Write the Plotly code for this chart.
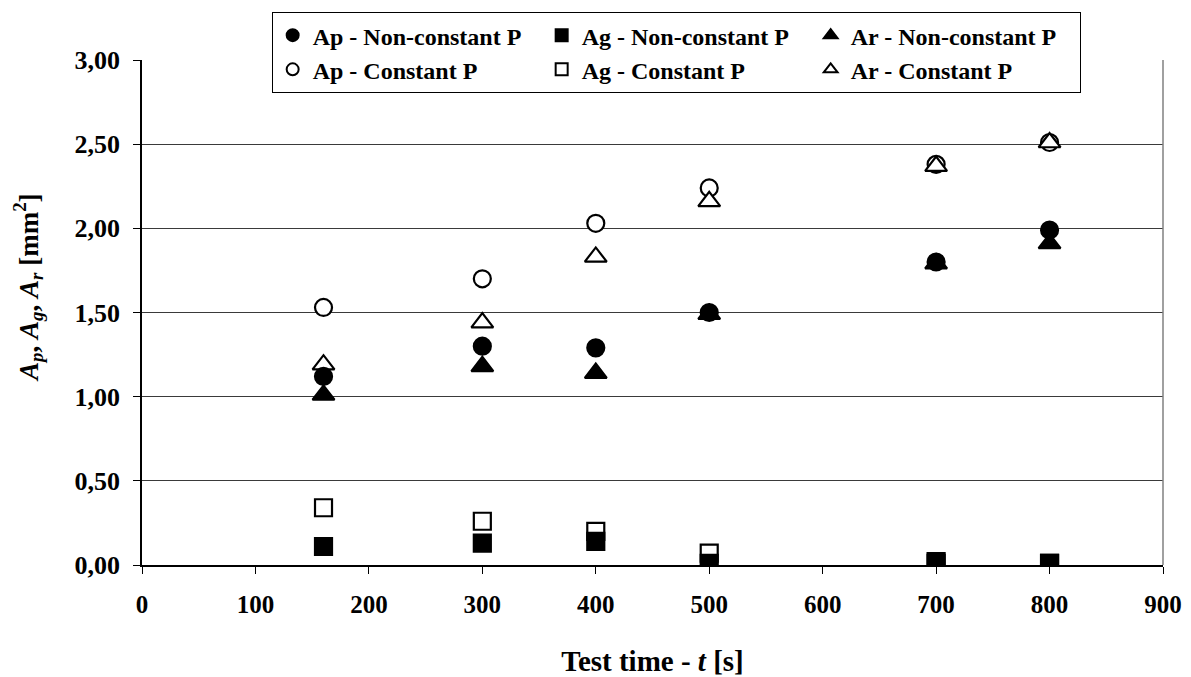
import plotly.graph_objects as go

t = [160, 300, 400, 500, 700, 800]
ap_nc = [1.12, 1.30, 1.29, 1.50, 1.80, 1.99]
ag_nc = [0.11, 0.13, 0.14, 0.01, 0.01, 0.01]
ar_nc = [1.01, 1.18, 1.14, 1.49, 1.79, 1.91]
ap_c = [1.53, 1.70, 2.03, 2.24, 2.38, 2.51]
ag_c = [0.34, 0.26, 0.20, 0.07, 0.02, 0.01]
ar_c = [1.19, 1.44, 1.83, 2.16, 2.37, 2.51]

names = ["Ap - Non-constant P", "Ag - Non-constant P", "Ar - Non-constant P",
         "Ap - Constant P", "Ag - Constant P", "Ar - Constant P"]

FONT = "Liberation Serif, Times New Roman, serif"

fig = go.Figure()

series = [
    (names[3], ap_c, "circle", "white", 4),
    (names[4], ag_c, "square", "white", 5),
    (names[5], ar_c, "triangle-up", "white", 6),
    (names[0], ap_nc, "circle", "black", 1),
    (names[1], ag_nc, "square", "black", 2),
    (names[2], ar_nc, "triangle-up", "black", 3),
]
for name, vals, sym, fill, rank in series:
    fig.add_trace(go.Scatter(
        x=t, y=vals, mode="markers", name=name, legendrank=rank,
        marker=dict(symbol=sym, size=17 if sym != "triangle-up" else 19,
                    color=fill, line=dict(color="black", width=2.2)),
    ))

# page body adds an 8px offset, so the figure is 8px smaller than the window
fig.update_layout(
    width=1183, height=669,
    margin=dict(l=134, r=28, t=52, b=112, autoexpand=False),
    plot_bgcolor="white", paper_bgcolor="white",
    separators=",.",
    font=dict(family=FONT, color="black", size=24),
    showlegend=True,
    legend=dict(
        orientation="h", x=0.127, y=1.095, xanchor="left", yanchor="top",
        bgcolor="white", bordercolor="black", borderwidth=1,
        font=dict(family=FONT, size=24, weight="bold"),
        entrywidth=224, itemwidth=30, itemsizing="constant",
        traceorder="normal",
    ),
    xaxis=dict(
        range=[0, 900], dtick=100, tick0=0,
        showgrid=False, zeroline=False, automargin=False,
        showline=True, linecolor="black", linewidth=1.5,
        ticks="outside", ticklen=7, tickcolor="black",
        tickfont=dict(family=FONT, size=25, weight="bold"),
        ticklabelstandoff=9,
        title=dict(text="Test time - <i>t</i> [s]", standoff=34,
                   font=dict(family=FONT, size=29, weight="bold")),
    ),
    yaxis=dict(
        range=[0, 3], dtick=0.5, tick0=0, tickformat=".2f",
        showgrid=True, gridcolor="#3a3a3a", gridwidth=1,
        zeroline=False, automargin=False,
        showline=True, linecolor="black", linewidth=1.5,
        ticks="outside", ticklen=7, tickcolor="black",
        tickfont=dict(family=FONT, size=26, weight="bold"),
        ticklabelstandoff=8,
    ),
    annotations=[dict(
        text="<i>A<sub>p</sub></i>, <i>A<sub>g</sub></i>, <i>A<sub>r</sub></i> [mm<sup>2</sup>]",
        xref="paper", yref="paper", x=-0.111, y=0.55,
        xanchor="center", yanchor="middle", textangle=-90, showarrow=False,
        font=dict(family=FONT, size=27, weight="bold"),
    )],
)

# right border of plot area
fig.add_shape(type="line", xref="x domain", yref="y domain",
              x0=1, x1=1, y0=0, y1=1, line=dict(color="#808080", width=1.5))

fig.write_html("out.html")
